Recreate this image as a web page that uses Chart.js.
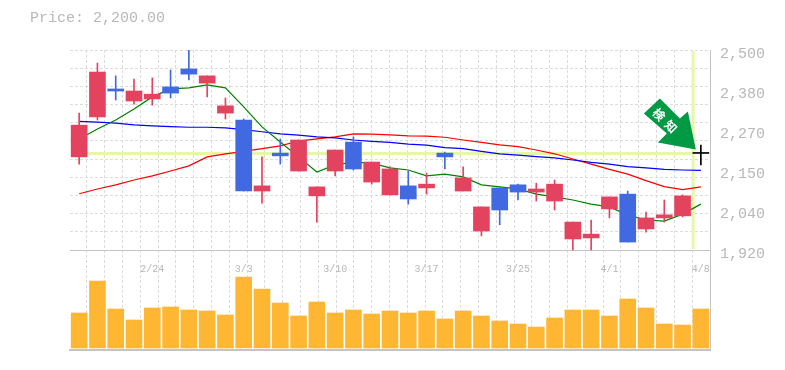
<!DOCTYPE html>
<html>
<head>
<meta charset="utf-8">
<style>html,body{margin:0;padding:0;background:#fff}canvas{display:block}</style>
<script src="https://cdn.jsdelivr.net/npm/chart.js@4"></script>
</head>
<body>
<canvas id="c" width="785" height="370"></canvas>
<script>
const categories = ['2/18','2/19','2/20','2/21','2/24','2/25','2/26','2/27','2/28','3/3','3/4','3/5','3/6','3/7','3/10','3/11','3/12','3/13','3/14','3/17','3/18','3/19','3/21','3/24','3/25','3/26','3/27','3/28','3/31','4/1','4/2','4/3','4/4','4/7','4/8'];
const opens  = [2190,2306,2387,2352,2358,2393,2445,2404,2317,2297,2091,2201,2149,2077,2149,2233,2117,2080,2106,2100,2201,2091,1975,2100,2109,2088,2062,1952,1955,2039,2082,1981,2013,2019,2200];
const closes = [2282,2436,2381,2381,2372,2375,2430,2425,2338,2091,2106,2193,2239,2103,2210,2155,2175,2155,2068,2111,2190,2129,2045,2036,2088,2097,2111,2001,1966,2074,1943,2013,2022,2077,2200];
const highs  = [2317,2462,2425,2416,2419,2442,2500,2425,2361,2300,2190,2242,2239,2103,2210,2248,2175,2161,2149,2143,2204,2161,2045,2100,2111,2114,2123,2001,2007,2074,2091,2030,2065,2080,2224];
const lows   = [2169,2297,2355,2343,2340,2361,2413,2364,2300,2091,2056,2169,2149,2001,2135,2152,2111,2080,2053,2082,2155,2091,1961,1993,2065,2062,2036,1920,1920,2013,1943,1972,2001,2016,2167];
const maShort = [2242,2271,2297,2329,2364,2387,2390,2399,2390,2335,2277,2233,2190,2146,2167,2175,2172,2158,2152,2135,2140,2132,2109,2103,2097,2082,2074,2065,2053,2045,2022,2007,2004,2024,2053];
const maMid   = [2293,2291,2288,2283,2280,2278,2276,2276,2274,2269,2263,2257,2253,2248,2245,2239,2235,2232,2227,2224,2217,2214,2206,2199,2195,2191,2187,2181,2174,2169,2162,2158,2154,2152,2151];
const maLong  = [2083,2097,2109,2123,2135,2149,2164,2190,2199,2206,2214,2222,2236,2242,2248,2257,2256,2254,2251,2250,2247,2239,2232,2225,2220,2210,2199,2184,2169,2154,2140,2121,2104,2095,2103];
const volumes = [35000,67000,39000,28000,40000,41000,38000,37000,33000,71000,59000,45000,32000,46000,35000,38000,34000,37000,35000,37000,29000,37000,32000,27000,24000,21000,30000,38000,38000,32000,49000,40000,24000,23000,39000];
const priceTickValues = [2500,2384,2268,2152,2036,1920];
const priceTickLabels = ['2,500','2,380','2,270','2,150','2,040','1,920'];
const dateTickLabels = ['2/24','3/3','3/10','3/17','3/25','4/1','4/8'];
const currentPrice = 2200;
const titleText = 'Price: 2,200.00';
const signalText = ['検','知'];

const UP='#E4435F', DOWN='#4169E1', FLAT='#000000', VOL='#FFB733', HILITE='#E6F7A8', TXT='#b8b8b8', AXIS='#c4c4c4', GRID='#dcdcdc';
const MONO='"Liberation Mono", monospace';
const colorOf = categories.map((_,i)=> closes[i]>opens[i]?UP:(closes[i]<opens[i]?DOWN:FLAT));
const slots = categories.length;

const signalPlugin = {
  id:'signal',
  afterDatasetsDraw(chart){
    const {ctx,scales}=chart;
    const tx=scales.x.getPixelForValue(slots-1)-5, ty=scales.y.getPixelForValue(currentPrice)-4;
    ctx.save();
    ctx.translate(tx,ty);
    ctx.fillStyle='#009944';
    ctx.beginPath();
    [[-36,-51],[-16,-31],[-8,-38],[0,0],[-38,-7],[-29,-16],[-52,-36]].forEach((p,i)=> i?ctx.lineTo(p[0],p[1]):ctx.moveTo(p[0],p[1]));
    ctx.closePath();ctx.fill();
    ctx.fillStyle='#fff';
    ctx.font='bold 12px "Noto Sans CJK JP"';
    ctx.textAlign='center';ctx.textBaseline='middle';
    [[-37,-35],[-25,-23]].forEach((p,i)=>{
      ctx.save();ctx.translate(p[0],p[1]);ctx.rotate(Math.PI/4);ctx.fillText(signalText[i],0,0);ctx.restore();
    });
    ctx.restore();
  }
};

new Chart(document.getElementById('c'),{
  type:'bar',
  plugins:[signalPlugin],
  data:{
    labels:categories,
    datasets:[
      {type:'line',xAxisID:'xl',yAxisID:'y',data:[{x:0,y:currentPrice},{x:slots-0.45,y:currentPrice}],borderColor:HILITE,borderWidth:3,pointRadius:0,order:20,clip:false},
      {type:'line',xAxisID:'xl',yAxisID:'y',data:[{x:slots-0.45,y:priceTickValues[5]+3},{x:slots-0.45,y:priceTickValues[0]-3}],borderColor:HILITE,borderWidth:3,pointRadius:0,order:20},
      {type:'line',yAxisID:'y',data:maLong,borderColor:'#ff0000',borderWidth:1.2,pointRadius:0,tension:0,order:8},
      {type:'line',yAxisID:'y',data:maMid,borderColor:'#0000ff',borderWidth:1.2,pointRadius:0,tension:0,order:7},
      {type:'line',yAxisID:'y',data:maShort,borderColor:'#008000',borderWidth:1.2,pointRadius:0,tension:0,order:6},
      {yAxisID:'yv',data:volumes,backgroundColor:VOL,barThickness:16,grouped:false,order:5},
      {yAxisID:'y',data:lows.map((l,i)=>[l,highs[i]]),backgroundColor:colorOf,barThickness:1,grouped:false,order:3},
      {yAxisID:'y',data:opens.map((o,i)=>[o,closes[i]]),backgroundColor:colorOf,barThickness:16,minBarLength:1,grouped:false,order:2}
    ]
  },
  options:{
    responsive:false,animation:false,
    layout:{padding:{left:30,top:9,right:0,bottom:20}},
    plugins:{
      legend:{display:false},tooltip:{enabled:false},
      title:{display:true,text:titleText,align:'start',color:TXT,font:{family:MONO,size:15,weight:'normal',lineHeight:1.2},padding:{top:0,bottom:23}}
    },
    scales:{
      x:{type:'category',offset:true,position:{y:priceTickValues[5]},
        grid:{display:false},
        border:{display:true,color:AXIS,width:1},
        ticks:{autoSkip:false,maxRotation:0,padding:5,color:TXT,font:{family:MONO,size:10},
          callback(v){const l=this.getLabelForValue(v);return dateTickLabels.includes(l)?l:'';}}
      },
      xl:{type:'linear',position:'bottom',min:0.055,max:slots,
        afterBuildTicks(s){s.ticks=categories.map((_,i)=>({value:i})).concat([{value:slots}]);},
        afterFit(s){s.height=0;},
        ticks:{display:false,autoSkip:false},
        grid:{display:true,color:GRID,drawTicks:false},
        border:{display:true,color:AXIS,width:2,dash:[3,2]}
      },
      y:{type:'linear',position:'left',min:1630,max:2500,
        afterBuildTicks(s){const t=[];for(let k=0;k<=11;k++)t.push({value:2500-k*580/11});s.ticks=t;},
        afterFit(s){s.width=40;},
        ticks:{display:false,autoSkip:false},
        grid:{display:true,color:GRID,drawTicks:false},
        border:{display:false,dash:[3,2]}
      },
      yr:{type:'linear',position:'right',min:1630,max:2500,
        afterBuildTicks(s){s.ticks=priceTickValues.map(v=>({value:v}));},
        afterFit(s){s.width=75;},
        ticks:{autoSkip:false,padding:10,labelOffset:4,color:TXT,font:{family:MONO,size:15},
          callback(v){const i=priceTickValues.indexOf(v);return i<0?'':priceTickLabels[i];}},
        grid:{display:false,drawTicks:false},
        border:{display:true,color:AXIS,width:1}
      },
      yv:{type:'linear',display:false,min:-2000,max:298000}
    }
  }
});
</script>
</body>
</html>
